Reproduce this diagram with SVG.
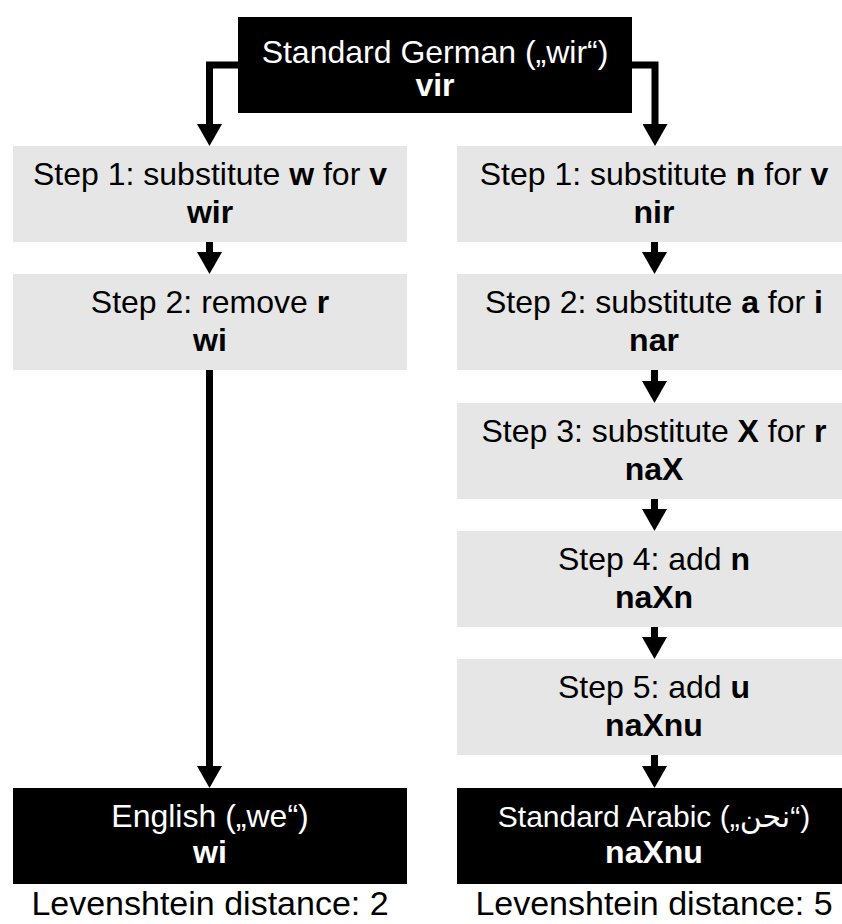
<svg xmlns="http://www.w3.org/2000/svg" width="842" height="924" viewBox="0 0 842 924">
  <defs>
    <style>
      text { font-family: "Liberation Sans", "DejaVu Sans", Arial, sans-serif; text-anchor: middle; }
      .step { fill: #e6e6e6; }
      .term { fill: #000000; }
      .t { font-size: 32px; fill: #000000; }
      .tw { font-size: 32px; fill: #ffffff; }
      .b { font-weight: bold; }
      .dist { font-size: 34px; fill: #000000; }
      .wire { fill: none; stroke: #000000; stroke-width: 7; marker-end: url(#head); }
    </style>
    <marker id="head" viewBox="0 0 22 25" refX="0" refY="12.5" markerWidth="22" markerHeight="25" markerUnits="userSpaceOnUse" orient="auto">
      <path d="M0,0 L22,12.5 L0,25 Z" fill="#000000"/>
    </marker>
  </defs>

  <!-- connectors -->
  <g id="connectors">
    <path class="wire" d="M238,65 H209.5 V124"/>
    <path class="wire" d="M632,65 H655 V124"/>
    <path class="wire" d="M209.5,242 V252"/>
    <path class="wire" d="M209.5,370 V766"/>
    <path class="wire" d="M654.5,242 V252"/>
    <path class="wire" d="M654.5,370 V381"/>
    <path class="wire" d="M654.5,499 V509"/>
    <path class="wire" d="M654.5,627 V637"/>
    <path class="wire" d="M654.5,755 V766"/>
  </g>

  <!-- source word -->
  <g id="german">
    <rect class="term" x="238" y="17" width="394" height="96"/>
    <text class="tw" x="435" y="63">Standard German („wir“)</text>
    <text class="tw b" x="435" y="96">vir</text>
  </g>

  <!-- left branch: towards English -->
  <g id="en-step1">
    <rect class="step" x="13" y="146" width="394" height="96"/>
    <text class="t" x="210" y="185">Step 1: substitute <tspan class="b">w</tspan> for <tspan class="b">v</tspan></text>
    <text class="t b" x="210" y="223">wir</text>
  </g>
  <g id="en-step2">
    <rect class="step" x="13" y="274" width="394" height="96"/>
    <text class="t" x="210" y="313">Step 2: remove <tspan class="b">r</tspan></text>
    <text class="t b" x="210" y="351">wi</text>
  </g>
  <g id="english">
    <rect class="term" x="13" y="788" width="394" height="96"/>
    <text class="tw" x="210" y="827">English („we“)</text>
    <text class="tw b" x="210" y="863">wi</text>
    <text class="dist" x="210" y="915">Levenshtein distance: 2</text>
  </g>

  <!-- right branch: towards Arabic -->
  <g id="ar-step1">
    <rect class="step" x="457" y="146" width="395" height="96"/>
    <text class="t" x="654" y="185">Step 1: substitute <tspan class="b">n</tspan> for <tspan class="b">v</tspan></text>
    <text class="t b" x="654" y="223">nir</text>
  </g>
  <g id="ar-step2">
    <rect class="step" x="457" y="274" width="395" height="96"/>
    <text class="t" x="654" y="313">Step 2: substitute <tspan class="b">a</tspan> for <tspan class="b">i</tspan></text>
    <text class="t b" x="654" y="351">nar</text>
  </g>
  <g id="ar-step3">
    <rect class="step" x="457" y="403" width="395" height="96"/>
    <text class="t" x="654" y="442">Step 3: substitute <tspan class="b">X</tspan> for <tspan class="b">r</tspan></text>
    <text class="t b" x="654" y="480">naX</text>
  </g>
  <g id="ar-step4">
    <rect class="step" x="457" y="531" width="395" height="96"/>
    <text class="t" x="654" y="570">Step 4: add <tspan class="b">n</tspan></text>
    <text class="t b" x="654" y="608">naXn</text>
  </g>
  <g id="ar-step5">
    <rect class="step" x="457" y="659" width="395" height="96"/>
    <text class="t" x="654" y="698">Step 5: add <tspan class="b">u</tspan></text>
    <text class="t b" x="654" y="736">naXnu</text>
  </g>
  <g id="arabic">
    <rect class="term" x="457" y="788" width="395" height="96"/>
    <text class="tw" x="654" y="827" style="font-size:30px">Standard Arabic („نحن“)</text>
    <text class="tw b" x="654" y="863">naXnu</text>
    <text class="dist" x="654" y="915">Levenshtein distance: 5</text>
  </g>
</svg>
